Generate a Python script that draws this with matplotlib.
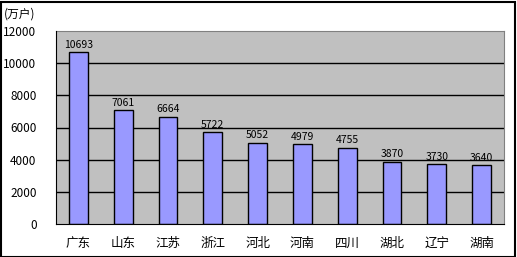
import matplotlib.pyplot as plt
from matplotlib.patches import Rectangle

plt.rcParams['font.family'] = ['Noto Sans CJK SC', 'DejaVu Sans']

# data
provinces = ['广东', '山东', '江苏', '浙江', '河北', '河南', '四川', '湖北', '辽宁', '湖南']
households = [10693, 7061, 6664, 5722, 5052, 4979, 4755, 3870, 3730, 3640]
y_ticks = [0, 2000, 4000, 6000, 8000, 10000, 12000]

W, H = 517, 257
fig = plt.figure(figsize=(W / 100, H / 100), dpi=100)

# plot area in pixel coords
left, right, top, bottom = 56, 504, 31, 224
ax = fig.add_axes([left / W, 1 - bottom / H, (right - left) / W, (bottom - top) / H])
ax.set_facecolor('#C0C0C0')

x = list(range(len(provinces)))
ax.bar(x, households, width=0.42, color='#9999FF', edgecolor='black', linewidth=1, zorder=3)

for xi, v in zip(x, households):
    ax.text(xi, v + 150, str(v), ha='center', va='bottom', fontsize=7.5, zorder=4)

ax.set_xlim(-0.5, len(provinces) - 0.5)
ax.set_ylim(0, 12000)
ax.set_yticks(y_ticks)
ax.set_yticklabels([str(t) for t in y_ticks], fontsize=8.5)
ax.set_xticks(x)
ax.set_xticklabels(provinces, fontsize=9)
ax.tick_params(axis='both', length=0, pad=6)
ax.tick_params(axis='y', pad=14)
ax.tick_params(axis='x', pad=9)

for t in y_ticks[1:-1]:
    ax.axhline(t, color='black', linewidth=1, zorder=1)

for side in ['top', 'right']:
    ax.spines[side].set_color('#808080')
for side in ['left', 'bottom']:
    ax.spines[side].set_color('black')
ax.spines['left'].set_zorder(5)
ax.spines['bottom'].set_zorder(5)

fig.text(4 / W, 1 - 14 / H, '(万户)', fontsize=8.5, va='center', ha='left')

# outer border of the chart
fig.patches.append(Rectangle((0.5 / W, 0.5 / H), (W - 3) / W, (H - 2) / H,
                             transform=fig.transFigure, fill=False,
                             edgecolor='black', linewidth=1.5))

fig.savefig('out.png', dpi=100)
